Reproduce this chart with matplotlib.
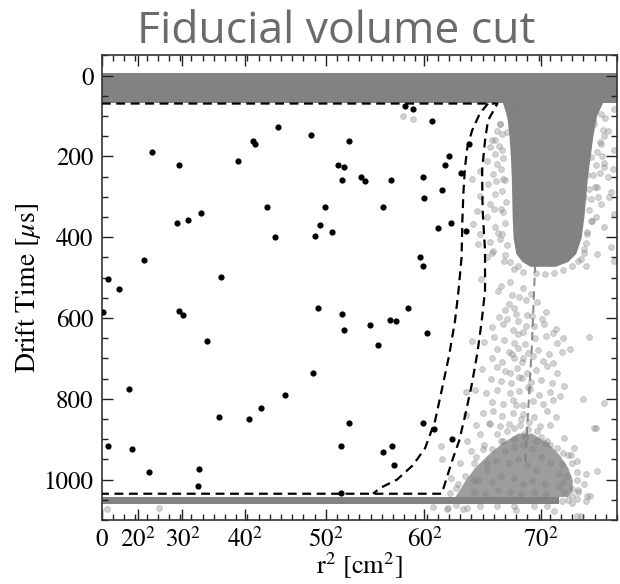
import matplotlib
matplotlib.use("Agg")
import matplotlib.pyplot as plt
from matplotlib.ticker import FixedLocator, MultipleLocator

plt.rcParams["font.family"] = "STIXGeneral"
plt.rcParams["mathtext.fontset"] = "stix"

# events surviving the cut: r^2 [cm^2], drift time [us]
sig_r2 = [1963, 1691, 1710, 557, 859, 1524, 1848, 1108, 959, 836, 1933, 469, 74, 197, 1331,
          3384, 3476, 3685, 2336, 2763, 2639, 2707, 2677, 2890, 2937, 3228, 3585, 3872, 3830,
          4101, 4006, 3800, 3593, 3135, 2495, 2432, 2376, 2566, 3749, 3900, 4064, 3551, 3581,
          15, 859, 911, 1179, 308, 67, 335, 524, 1089, 1074, 1312, 1643, 1777, 2046,
          2410, 2678, 2707, 2990, 3213, 3287, 3418, 3626, 3086, 2361, 2760, 3589, 3708, 3905,
          2666, 3235, 3142, 3258, 2666]
sig_dt = [127, 162, 168, 188, 222, 212, 326, 341, 357, 364, 400, 456, 503, 529, 499,
          76, 83, 111, 148, 161, 221, 225, 259, 251, 261, 258, 250, 198, 221,
          168, 240, 283, 303, 326, 326, 370, 396, 388, 378, 365, 385, 449, 472,
          584, 583, 592, 658, 776, 918, 924, 981, 973, 1015, 846, 851, 822, 791,
          575, 589, 629, 617, 606, 607, 574, 637, 666, 736, 860, 860, 875, 899,
          917, 916, 932, 965, 1032]

# sparse background events: beside the upper wall cluster
side_r2 = [3366, 3478, 4595, 4670, 4540, 4445, 4408, 4520, 4390, 4333, 4390, 4295, 4408, 4221,
           4370, 4127, 4314, 4390, 4221, 4333, 4183, 4295, 4146, 4390, 4221, 4333, 4202, 4370,
           4295, 4470, 4350, 4480, 4455, 4440, 4490,
           5420, 5570, 5720, 5495, 5645, 5380, 5570, 5720, 5456, 5607, 5420, 5645, 5532, 5682,
           5380, 5570, 5720, 5456, 5607, 5420, 5682, 5532, 5720, 5380, 5700, 5480, 5600, 5660,
           5520, 5440, 5350, 5400]
side_dt = [100, 107, 82, 86, 98, 119, 136, 140, 160, 177, 193, 210, 218, 235,
           243, 255, 268, 293, 297, 317, 334, 350, 367, 375, 392, 412, 417, 433,
           450, 185, 160, 255, 330, 405, 460,
           69, 94, 82, 119, 136, 152, 169, 185, 202, 226, 247, 251, 276, 288,
           301, 317, 342, 359, 375, 392, 425, 441, 458, 430, 230, 110, 215, 300,
           350, 280, 455, 470]

# ragged edge of the upper wall cluster
edge_r2 = [4440, 4470, 4430, 4480, 4455, 4500, 4470, 4510, 4480, 4505, 4470, 4520, 4495, 4560,
           4600, 4650, 4700, 4400, 4380, 4420, 4360,
           5620, 5590, 5560, 5530, 5510, 5480, 5500, 5460, 5440, 5470, 5420, 5400, 5380, 5320,
           5250, 5150, 5050, 4950, 4850, 5540, 5560, 5580, 5600]
edge_dt = [120, 145, 175, 205, 232, 258, 285, 312, 338, 365, 392, 418, 445, 462,
           478, 470, 485, 260, 330, 390, 440,
           105, 135, 165, 190, 220, 245, 275, 305, 332, 360, 388, 415, 440, 458,
           470, 480, 488, 490, 488, 300, 240, 200, 150]

# sparse background events: between the wall clusters
mid_r2 = [4232, 4456, 4561, 4700, 4419, 4580, 4655, 4790, 4545, 4730, 4862, 4960, 4505, 4617,
          4745, 4430, 4525, 4640, 4800, 4910, 5070, 4350, 4480, 4590, 4705, 4820, 4930, 5040,
          5150, 5230, 5440, 4130, 4260, 4375, 4490, 4600, 4725, 4835, 4955, 5080, 4415, 4540,
          4640, 4760, 4870, 4995, 5140, 4360, 4470, 4595, 4695, 4815, 4920, 5030, 4245, 4410,
          4505, 4630, 4740, 4845, 4965, 5080, 4340, 4460, 4565, 4690, 4790, 4900, 5020, 5155,
          5370, 5600, 4060, 4160, 4290, 4415, 4555, 4660, 4780, 4880, 5005, 5110, 4360, 4480,
          4585, 4705, 4815, 4925, 5040, 4070, 4250, 4370, 4470, 4590, 4705, 4825, 4965, 5070,
          5520, 4180, 4320, 4440, 4545, 4665, 4770, 4890, 5000,
          4600, 4650, 4700, 4560, 4760, 4620, 4680, 4730, 4580, 4660]
mid_dt = [503, 520, 512, 526, 534, 542, 548, 541, 566, 556, 560, 585, 580, 589,
          592, 598, 603, 607, 596, 603, 626, 622, 615, 630, 634, 620, 616, 636,
          650, 676, 646, 656, 660, 648, 655, 662, 664, 650, 645, 663, 676, 684,
          673, 686, 680, 690, 684, 700, 710, 700, 710, 695, 706, 712, 725, 720,
          730, 724, 735, 729, 719, 735, 750, 755, 760, 748, 758, 754, 762, 768,
          801, 810, 782, 778, 785, 777, 786, 781, 776, 790, 782, 792, 808, 812,
          802, 815, 806, 812, 802, 840, 836, 831, 842, 835, 838, 845, 830, 845,
          873, 866, 860, 868, 862, 866, 858, 868, 864,
          575, 640, 700, 735, 770, 815, 850, 620, 690, 745]

# background events around and inside the lower cluster, cathode band
low_r2 = [3780, 3800, 3902, 3958, 3883, 4071, 4221, 4333, 4408, 4595, 4707, 4857, 4970, 5082,
          5157, 5232, 5269, 5307, 5138, 5194, 5251, 5531, 5494, 5344, 5251, 5138, 4970, 4820,
          4595, 4408, 4221, 4033, 3865, 56, 636, 5307, 3700, 3850, 4620, 5050,
          4000, 4120, 4260, 5200, 5300, 5380, 5420, 4150, 4300, 5150, 3950, 4080,
          4480, 4520, 4760, 4900, 5000, 4350, 4180, 5320, 5400, 5250,
          4500, 4600, 4700, 4800, 4900, 5000, 4400, 4300, 4550, 4650, 4750, 4850, 5100, 4200,
          4350, 4450, 4600, 4700, 4800, 4950, 5100, 4150, 4280, 4420, 4560, 4680, 4820, 4960,
          5160, 4720, 4600, 4850, 4250, 4150, 4050, 3980, 5150, 5250, 5300, 5320, 4450, 4950,
          5200, 5300, 5400, 5450]
low_dt = [917, 950, 996, 1020, 1033, 905, 888, 863, 888, 872, 888, 880, 905, 921,
          896, 938, 921, 954, 962, 991, 1024, 979, 872, 1091, 1058, 1053, 1066, 1066,
          1066, 1066, 1066, 1072, 1070, 1072, 1070, 1090, 1068, 1074, 1075, 1078,
          960, 930, 915, 940, 980, 1010, 1040, 1000, 960, 1005, 1062, 1070,
          905, 880, 875, 895, 915, 925, 945, 1025, 985, 1040,
          930, 920, 915, 925, 945, 960, 955, 975, 960, 950, 965, 975, 985, 1000,
          1005, 990, 995, 1010, 1000, 1010, 1015, 1030, 1035, 1025, 1030, 1035, 1030, 1035,
          1030, 895, 900, 905, 925, 960, 990, 1010, 935, 960, 1000, 1030, 905, 910,
          1050, 1048, 1052, 1040]

# dense event populations
gate_band = (-6, 67)
cathode_band = (1042, 1060)
cathode_band_r2 = [0, 5100]
wall_core_dt = [66, 100, 150, 200, 250, 300, 350, 400, 440, 460, 472]
wall_core_lo = [4470, 4520, 4545, 4560, 4570, 4575, 4580, 4590, 4620, 4690, 4780]
wall_core_hi = [5590, 5520, 5480, 5450, 5420, 5400, 5380, 5350, 5290, 5200, 5060]
cath_cloud_dt = [885, 910, 940, 970, 1000, 1025, 1042]
cath_cloud_lo = [4640, 4460, 4300, 4160, 4060, 3990, 3940]
cath_cloud_hi = [4800, 4980, 5110, 5200, 5250, 5250, 5200]

# fiducial volume boundaries
top_cut = 69
bottom_cut = 1035
outer_r2 = [4415, 4310, 4277, 4244, 4250, 4277, 4277, 4240, 4192, 4126, 4054, 3988, 3909, 3849, 3794]
outer_dt = [69, 111, 160, 235, 334, 433, 532, 607, 686, 768, 842, 904, 954, 996, 1035]
inner_r2 = [4310, 4220, 4132, 4079, 4053, 4035, 4024, 4015, 3981, 3942, 3875, 3797, 3719,
            3608, 3474, 3295, 3105, 3027]
inner_dt = [69, 93, 136, 178, 228, 292, 359, 450, 532, 607, 694, 775, 855, 922, 964,
            1000, 1021, 1035]
wall_r2 = [4850, 4835, 4797, 4741, 4725]
wall_dt = [400, 475, 681, 896, 960]

xtick_pos = [0, 400, 900, 1600, 2500, 3600, 4900]
xtick_lab = ["0", "$20^2$", "$30^2$", "$40^2$", "$50^2$", "$60^2$", "$70^2$"]

fig = plt.figure(figsize=(6.2, 5.84), dpi=100)
ax = fig.add_axes([0.1642, 0.1096, 0.831, 0.7954])

dense = "#828282"
ax.axhspan(*gate_band, color=dense, lw=0, zorder=1)
ax.fill_between(cathode_band_r2, *cathode_band, color=dense, lw=0, zorder=1)
ax.fill_betweenx(wall_core_dt, wall_core_lo, wall_core_hi, color=dense, lw=0, zorder=1)
ax.fill_betweenx(cath_cloud_dt, cath_cloud_lo, cath_cloud_hi, color=dense, alpha=0.78, lw=0, zorder=1)
for xs, ys in [(side_r2, side_dt), (edge_r2, edge_dt), (mid_r2, mid_dt), (low_r2, low_dt)]:
    ax.scatter(xs, ys, s=18, color="gray", alpha=0.35, lw=0.6, zorder=2)

ax.plot(wall_r2, wall_dt, color="gray", ls=(0, (4, 2.5)), lw=1.5, alpha=0.9, zorder=2)

dash = (0, (4, 2.5))
ax.plot([0] + outer_r2 + [0], [top_cut] + outer_dt + [bottom_cut], color="k", ls=dash, lw=1.6, zorder=3)
ax.plot(inner_r2, inner_dt, color="k", ls=dash, lw=1.6, zorder=3)

ax.scatter(sig_r2, sig_dt, s=20, color="k", lw=0, zorder=4)

ax.set_xlim(0, 5750)
ax.set_ylim(1100, -50)
ax.xaxis.set_major_locator(FixedLocator(xtick_pos))
ax.set_xticklabels(xtick_lab)
ax.xaxis.set_minor_locator(MultipleLocator(125))
ax.set_yticks([0, 200, 400, 600, 800, 1000])
ax.yaxis.set_minor_locator(MultipleLocator(50))
ax.tick_params(which="both", direction="in", top=True, right=True, labelsize=18, pad=6, color="#222")
ax.tick_params(which="major", length=8, width=1)
ax.tick_params(which="minor", length=4, width=1)
for sp in ax.spines.values():
    sp.set_linewidth(1.2)
    sp.set_color("#333")

ax.set_xlabel("r$^2$ [cm$^2$]", fontsize=19, labelpad=-2)
ax.set_ylabel(r"Drift Time [$\mu$s]", fontsize=20, labelpad=0)

fig.text(0.543, 0.927, "Fiducial volume cut", family="Open Sans", fontsize=32,
         color="#6b6b6b", ha="center", va="baseline")

fig.savefig("out.png", dpi=100)
